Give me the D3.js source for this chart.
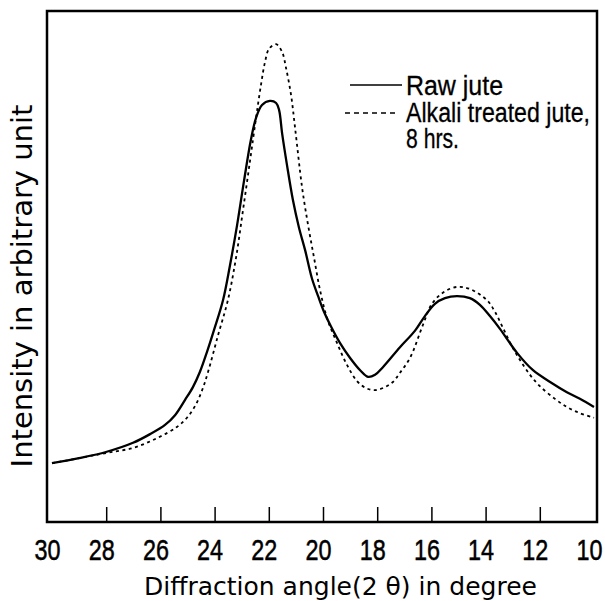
<!DOCTYPE html>
<html><head><meta charset="utf-8">
<script src="https://cdn.jsdelivr.net/npm/d3@7"></script>
<style>body{margin:0;background:#fff}</style>
</head><body>
<svg id="c" width="605" height="601"></svg>
<script>
// Raw jute (solid)
const rawAngle = [30.00,29.00,28.01,27.01,26.38,25.83,25.46,25.09,24.80,24.54,24.28,24.02,23.69,23.43,23.17,22.91,22.66,22.47,22.25,21.96,21.73,21.62,21.51,21.33,21.11,20.89,20.66,20.41,20.18,19.96,19.70,19.37,19.00,18.63,18.34,18.08,17.79,17.16,16.61,16.24,15.87,15.50,15.06,14.58,14.21,13.84,13.47,12.84,12.25,11.62,11.00,10.52,10.00];
const rawIntensity = [11.5,12.5,13.7,15.5,17.2,19.0,20.9,23.9,26.4,29.4,33.3,37.6,43.4,50.3,58.1,66.9,74.8,79.1,81.6,82.4,82.0,80.6,76.1,69.9,63.0,57.7,53.2,47.7,44.2,41.1,38.2,35.0,32.1,29.7,28.4,28.8,30.3,34.2,37.4,40.3,42.7,43.8,44.2,43.8,42.5,40.3,37.8,33.1,29.7,27.4,25.4,24.1,22.5];
// Alkali treated jute, 8 hrs. (dashed)
const alkAngle = [30.00,29.00,28.01,27.01,26.13,25.39,25.02,24.72,24.46,24.24,23.87,23.51,23.21,22.95,22.69,22.47,22.29,22.14,21.99,21.73,21.51,21.37,21.18,21.03,20.77,20.55,20.33,20.11,19.85,19.48,19.11,18.75,18.41,18.08,17.71,17.42,17.16,16.79,16.31,15.98,15.54,15.06,14.58,13.95,13.65,13.36,13.03,12.73,12.36,12.00,11.44,11.00,10.52,10.00];
const alkIntensity = [11.5,12.5,13.5,14.5,16.4,18.6,20.4,22.7,25.8,29.4,36.6,43.4,51.7,61.1,70.8,79.1,85.5,90.0,92.6,93.5,92.0,89.0,83.6,77.1,65.4,58.1,51.7,45.4,39.9,35.0,30.7,27.6,26.2,25.8,26.4,27.4,29.2,32.1,38.6,42.7,45.0,46.0,45.6,43.4,41.1,38.0,34.4,31.7,28.8,26.6,24.1,22.5,21.3,20.4];
const xTicks = [30,28,26,24,22,20,18,16,14,12,10];
const legendLabels = ["Raw jute", "Alkali treated jute,", "8 hrs."];
const xTitle = "Diffraction angle(2 θ) in degree";
const yTitle = "Intensity in arbitrary unit";

const svg = d3.select("#c");
const x = d3.scaleLinear().domain([30,10]).range([52,594]);
const y = d3.scaleLinear().domain([0,100]).range([522,11]);

// frame
svg.append("rect").attr("x",47).attr("y",11).attr("width",550).attr("height",511)
  .attr("fill","none").attr("stroke","#000").attr("stroke-width",2.5);

// x axis
const ax = svg.append("g").attr("transform","translate(0,522)")
  .call(d3.axisBottom(x).tickValues(xTicks).tickSizeInner(-15).tickSizeOuter(0).tickPadding(17).tickFormat(d3.format("d")));
ax.select(".domain").remove();
ax.selectAll(".tick line").attr("stroke","#000").attr("stroke-width",1.5)
  .attr("opacity", d => (d===30||d===10) ? 0 : 1);
ax.selectAll(".tick text").attr("fill","#000")
  .attr("font-family","'Liberation Sans',Arial,sans-serif")
  .attr("font-size",30).attr("dx",-5)
  .attr("stroke","#000").attr("stroke-width",0.5)
  .attr("textLength",26).attr("lengthAdjust","spacingAndGlyphs");

// curves
const line = d3.line().curve(d3.curveCatmullRom.alpha(0.5));
const rawPts = rawAngle.map((a,i)=>[x(a), y(rawIntensity[i])]);
const alkPts = alkAngle.map((a,i)=>[x(a), y(alkIntensity[i])]);
svg.append("path").attr("d", line(alkPts)).attr("fill","none").attr("stroke","#000")
  .attr("stroke-width",1.8).attr("stroke-dasharray","3,3.5");
svg.append("path").attr("d", line(rawPts)).attr("fill","none").attr("stroke","#000")
  .attr("stroke-width",2.3);

// legend
const lg = svg.append("g");
lg.append("line").attr("x1",350).attr("x2",402).attr("y1",85).attr("y2",85)
  .attr("stroke","#000").attr("stroke-width",1.4);
lg.append("line").attr("x1",345).attr("x2",398).attr("y1",113).attr("y2",113)
  .attr("stroke","#000").attr("stroke-width",1.6).attr("stroke-dasharray","5,4");
const ly = [95,122,148];
const lw = [97,184,53];
lg.selectAll("text").data(legendLabels).join("text")
  .attr("x",406).attr("y",(d,i)=>ly[i]).text(d=>d)
  .attr("font-family","'Liberation Sans',Arial,sans-serif")
  .attr("font-size",27).attr("fill","#000")
  .attr("stroke","#000").attr("stroke-width",0.3)
  .attr("textLength",(d,i)=>lw[i]).attr("lengthAdjust","spacingAndGlyphs");

// axis titles
svg.append("text").attr("x",144).attr("y",595).text(xTitle)
  .attr("font-family","'DejaVu Sans',sans-serif").attr("font-size",25).attr("fill","#000");
svg.append("text").attr("transform","translate(32,286) rotate(-90)")
  .attr("text-anchor","middle").text(yTitle)
  .attr("font-family","'DejaVu Sans',sans-serif").attr("font-size",29).attr("fill","#000");
</script>
</body></html>
